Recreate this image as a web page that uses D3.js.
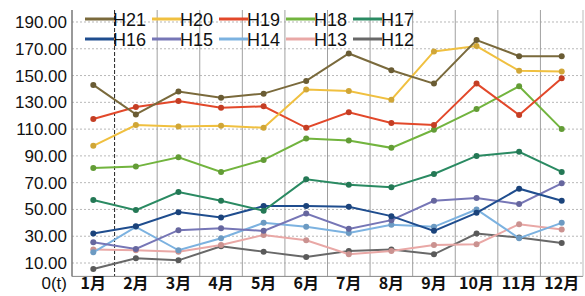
<!DOCTYPE html>
<html>
<head>
<meta charset="utf-8">
<script src="https://d3js.org/d3.v7.min.js"></script>
<style>
  body { margin: 0; background: #fff; }
  text { font-family: "Liberation Sans", Arial, sans-serif; }
</style>
</head>
<body>
<script>
var w = 585;
var h = 296;

// data
var months = ["1月","2月","3月","4月","5月","6月","7月","8月","9月","10月","11月","12月"];
var seriesNames = ["H21","H20","H19","H18","H17","H16","H15","H14","H13","H12"];
var seriesColors = ["#7a6a3c","#f0c040","#e2482a","#72b43e","#2a8a62","#1f4d8e","#7676b6","#7cb2e0","#e9a8a6","#686868"];
var yTicks = [10,30,50,70,90,110,130,150,170,190];

var H21 = [143,121,138,133.5,136.5,146,166.5,154,144,176.5,164.5,164.5];
var H20 = [97.5,113,112,112.5,111,139.5,138.5,132,168,172,153.5,153];
var H19 = [117.5,126.5,131,126,127,111,122.5,114.5,113,144,120.5,148];
var H18 = [81,82,89,78,87,103,101.5,96,109.5,125,142,110];
var H17 = [57,49.5,63,56.5,49,72.5,68.5,66.5,76.5,90,93,78];
var H16 = [32,37.5,48,44,52.5,52.5,52,45,34,47.5,65.5,56.5];
var H15 = [25.5,20.5,34.5,36,34,47,35.5,42,56.5,58.5,54,69.5];
var H14 = [18,37,19.5,28.5,40,37,32.5,38.5,37,50,28.5,40];
var H13 = [20,19.5,18.5,23.5,31,27,16.5,19,23.5,24,39,35];
var H12 = [5.5,13.5,12,22.5,18.5,14.5,19,20,16.5,32,29,25];
var allSeries = [H21,H20,H19,H18,H17,H16,H15,H14,H13,H12];

var svg = d3.select("body").append("svg")
          .attr("width", w)
          .attr("height", h);

var plotLeft = 72, plotRight = 583, plotTop = 8.6, plotBottom = 276.4;

var x = d3.scaleBand()
          .domain(months)
          .range([plotLeft, plotRight]);

var y = d3.scaleLinear()
          .domain([0, 200])
          .range([plotBottom, plotTop]);

// horizontal dotted grid
svg.append("g").selectAll("line")
   .data(yTicks)
   .enter().append("line")
   .attr("x1", plotLeft)
   .attr("x2", plotRight)
   .attr("y1", function(d) { return y(d); })
   .attr("y2", function(d) { return y(d); })
   .attr("stroke", "#b8b8b8")
   .attr("stroke-width", 1)
   .attr("stroke-dasharray", "2,2");

// vertical grid at band edges
svg.append("g").selectAll("line")
   .data(months.slice(1))
   .enter().append("line")
   .attr("x1", function(d) { return x(d); })
   .attr("x2", function(d) { return x(d); })
   .attr("y1", 10)
   .attr("y2", plotBottom)
   .attr("stroke", function(d, i) { return i == 0 ? "#222" : "#a0a0a0"; })
   .attr("stroke-dasharray", function(d, i) { return i == 0 ? "4,2" : null; })
   .attr("stroke-width", 1);

// frame
svg.append("line")
   .attr("x1", plotLeft).attr("x2", plotLeft)
   .attr("y1", 10).attr("y2", plotBottom)
   .attr("stroke", "#777").attr("stroke-width", 1.5);
svg.append("line")
   .attr("x1", plotLeft).attr("x2", plotRight)
   .attr("y1", plotBottom).attr("y2", plotBottom)
   .attr("stroke", "#888").attr("stroke-width", 1);
svg.append("line")
   .attr("x1", plotRight).attr("x2", plotRight)
   .attr("y1", 10).attr("y2", plotBottom)
   .attr("stroke", "#bbb").attr("stroke-width", 1);

// y axis labels
svg.append("g").selectAll("text")
   .data(yTicks)
   .enter().append("text")
   .attr("x", 67)
   .attr("y", function(d) { return y(d) + 6; })
   .attr("text-anchor", "end")
   .attr("font-size", 17)
   .attr("fill", "#111")
   .text(function(d) { return d3.format(".2f")(d); });

svg.append("text")
   .attr("x", 67)
   .attr("y", 289)
   .attr("text-anchor", "end")
   .attr("font-size", 17)
   .attr("fill", "#111")
   .text("0(t)");

// x axis labels
svg.append("g").selectAll("text")
   .data(months)
   .enter().append("text")
   .attr("x", function(d) { return x(d) + x.bandwidth() / 2; })
   .attr("y", 289)
   .attr("text-anchor", "middle")
   .attr("font-size", 16)
   .attr("font-weight", "bold")
   .style("font-family", "'Noto Sans CJK JP', sans-serif")
   .attr("fill", "#111")
   .text(function(d) { return d; });

// series lines and dots
var line = d3.line()
             .x(function(d, i) { return x(months[i]) + x.bandwidth() / 2; })
             .y(function(d) { return y(d); });

// draw from last to first so H21 ends on top
for (var s = allSeries.length - 1; s >= 0; s--) {
  var g = svg.append("g");
  g.append("path")
   .datum(allSeries[s])
   .attr("d", line)
   .attr("fill", "none")
   .attr("stroke", seriesColors[s])
   .attr("stroke-width", 2);
  g.selectAll("circle")
   .data(allSeries[s])
   .enter().append("circle")
   .attr("cx", function(d, i) { return x(months[i]) + x.bandwidth() / 2; })
   .attr("cy", function(d) { return y(d); })
   .attr("r", 3)
   .attr("fill", d3.color(seriesColors[s]).darker(0.4));
}

// legend, two rows of five
var legend = svg.append("g").selectAll("g")
                .data(seriesNames)
                .enter().append("g")
                .attr("transform", function(d, i) {
                  return "translate(" + (85 + (i % 5) * 67) + "," + (19 + Math.floor(i / 5) * 20) + ")";
                });
legend.append("line")
      .attr("x1", 0).attr("x2", 29)
      .attr("y1", 0).attr("y2", 0)
      .attr("stroke", function(d, i) { return seriesColors[i]; })
      .attr("stroke-width", 3);
legend.append("text")
      .attr("x", 28)
      .attr("y", 7)
      .attr("font-size", 18)
      .attr("fill", "#111")
      .text(function(d) { return d; });
</script>
</body>
</html>
